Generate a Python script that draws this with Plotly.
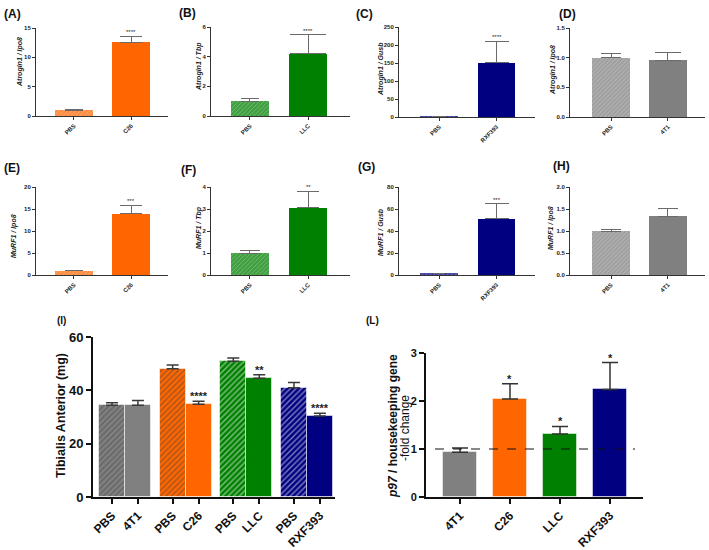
import plotly.graph_objects as go

W, H = 709, 550

# ---------------- data ----------------
cats_c26 = ["PBS", "C26"]
cats_llc = ["PBS", "LLC"]
cats_rxf = ["PBS", "RXF393"]
cats_4t1 = ["PBS", "4T1"]

atrogin_c26 = [0.97, 12.6]
atrogin_c26_sem = [0.2, 1.0]
atrogin_llc = [1.0, 4.2]
atrogin_llc_sem = [0.17, 1.27]
atrogin_rxf = [1.0, 151]
atrogin_rxf_sem = [0.5, 60]
atrogin_4t1 = [1.0, 0.955]
atrogin_4t1_sem = [0.07, 0.13]

murf_c26 = [1.0, 13.9]
murf_c26_sem = [0.12, 1.9]
murf_llc = [1.0, 3.06]
murf_llc_sem = [0.12, 0.74]
murf_rxf = [1.2, 51.0]
murf_rxf_sem = [0.4, 13.6]
murf_4t1 = [1.0, 1.33]
murf_4t1_sem = [0.03, 0.18]

ta_labels = ["PBS", "4T1", "PBS", "C26", "PBS", "LLC", "PBS", "RXF393"]
ta_mass = [34.4, 34.4, 48.1, 34.8, 50.9, 44.5, 41.0, 30.4]
ta_sem = [0.9, 1.8, 1.4, 1.1, 1.2, 1.3, 1.9, 1.0]
ta_stars = ["", "", "", "****", "", "**", "", "****"]

p97_cats = ["4T1", "C26", "LLC", "RXF393"]
p97_fold = [0.93, 2.04, 1.31, 2.24]
p97_sem = [0.09, 0.32, 0.16, 0.56]
p97_stars = ["", "*", "*", "*"]

# ---------------- styles ----------------
GRAY, ORANGE, GREEN, NAVY = "#808080", "#FF6600", "#008000", "#000080"
FONT = "Liberation Sans"

fig = go.Figure()
annotations = []
shapes = []


def px_dom(x0, x1, y0, y1):
    return [x0 / W, x1 / W], [1 - y1 / H, 1 - y0 / H]


def ax_names(i):
    return ("xaxis" if i == 1 else f"xaxis{i}", "yaxis" if i == 1 else f"yaxis{i}",
            "x" if i == 1 else f"x{i}", "y" if i == 1 else f"y{i}")


def small_panel(i, cats, vals, sems, color, box, yr, ytv, yfmt, xr, ytitle, tpos, stars, label, lpos, capw=(9, 11)):
    xa, ya, xr_, yr_ = ax_names(i)
    for k in range(2):
        pbs = k == 0
        fig.add_trace(go.Bar(
            x=[cats[k]], y=[vals[k]], width=0.66, xaxis=xr_, yaxis=yr_, showlegend=False,
            marker=dict(color=color, line=dict(width=0),
                        opacity=0.75 if pbs else 1,
                        pattern=dict(shape="/" if pbs else "", fgcolor="white", size=3, solidity=0.25, fgopacity=0.35)),
            error_y=dict(type="data", array=[sems[k]], arrayminus=[0], symmetric=False,
                         color="#6a6a6a", thickness=1, width=capw[k]),
        ))
    xd, yd = px_dom(*box)
    fig.layout[xa] = dict(domain=xd, anchor=yr_, range=xr, type="category", showline=True, linecolor="#333",
                          linewidth=1, ticks="outside", ticklen=3, tickcolor="#333", tickangle=-45,
                          tickfont=dict(family=FONT, size=6, color="#222", weight="bold"), showgrid=False,
                          zeroline=False, fixedrange=True, automargin=False)
    fig.layout[ya] = dict(domain=yd, anchor=xr_, range=yr, tickvals=ytv, ticktext=yfmt, showline=True,
                          linecolor="#333", linewidth=1, ticks="outside", ticklen=3, tickcolor="#333",
                          tickfont=dict(family=FONT, size=6, color="#222", weight="bold"), showgrid=False,
                          zeroline=False, fixedrange=True, automargin=False)
    annotations.append(dict(text=f"<b><i>{ytitle}</i></b>", x=tpos[0] / W, y=1 - tpos[1] / H, xref="paper",
                            yref="paper", textangle=-90, showarrow=False, xanchor="center", yanchor="middle",
                            font=dict(family=FONT, size=7, color="#222")))
    if stars:
        annotations.append(dict(text=stars, x=cats[1], y=vals[1] + sems[1], xref=xr_, yref=yr_, showarrow=False,
                                yanchor="bottom", yshift=-1, font=dict(family=FONT, size=6, color="#222")))
    annotations.append(dict(text=f"<b>{label}</b>", x=lpos[0] / W, y=1 - lpos[1] / H, xref="paper", yref="paper",
                            showarrow=False, xanchor="left", yanchor="middle",
                            font=dict(family=FONT, size=12, color="#111")))


small_panel(1, cats_c26, atrogin_c26, atrogin_c26_sem, ORANGE, (36, 168, 28, 116), [0, 15], [0, 5, 10, 15],
            ["0", "5", "10", "15"], [-0.66, 1.64], "Atrogin1 / Ipo8", (20, 62), "****", "(A)", (2, 14))
small_panel(2, cats_llc, atrogin_llc, atrogin_llc_sem, GREEN, (211, 350, 27, 116), [0, 6], [0, 2, 4, 6],
            ["0", "2", "4", "6"], [-0.67, 1.72], "Atrogin1 / Tbp", (199, 67), "****", "(B)", (177, 13), capw=(9, 18))
small_panel(3, cats_rxf, atrogin_rxf, atrogin_rxf_sem, NAVY, (399, 535, 27, 117), [0, 250],
            [0, 50, 100, 150, 200, 250], ["0", "50", "100", "150", "200", "250"], [-0.70, 1.67],
            "Atrogin1 / Gusb", (381, 69), "****", "(C)", (354, 14), capw=(6, 12))
small_panel(4, cats_4t1, atrogin_4t1, atrogin_4t1_sem, GRAY, (570, 705, 28, 117), [0, 1.5], [0, 0.5, 1.0, 1.5],
            ["0.0", "0.5", "1.0", "1.5"], [-0.72, 1.65], "Atrogin1 / Ipo8", (553, 70), "", "(D)", (557, 14),
            capw=(10, 13))
small_panel(5, cats_c26, murf_c26, murf_c26_sem, ORANGE, (36, 168, 187, 275), [0, 20], [0, 5, 10, 15, 20],
            ["0", "5", "10", "15", "20"], [-0.66, 1.64], "MuRF1 / Ipo8", (14, 236), "***", "(E)", (2, 168))
small_panel(6, cats_llc, murf_llc, murf_llc_sem, GREEN, (211, 350, 187, 275), [0, 4], [0, 1, 2, 3, 4],
            ["0", "1", "2", "3", "4"], [-0.67, 1.72], "MuRF1 / Tbp", (199, 228), "**", "(F)", (179, 170),
            capw=(10, 11))
small_panel(7, cats_rxf, murf_rxf, murf_rxf_sem, NAVY, (399, 535, 187, 275), [0, 80], [0, 20, 40, 60, 80],
            ["0", "20", "40", "60", "80"], [-0.70, 1.67], "MuRF1 / Gusb", (380, 232), "***", "(G)", (356, 167),
            capw=(6, 12))
small_panel(8, cats_4t1, murf_4t1, murf_4t1_sem, GRAY, (570, 705, 187, 275), [0, 2], [0, 0.5, 1.0, 1.5, 2.0],
            ["0.0", "0.5", "1.0", "1.5", "2.0"], [-0.72, 1.65], "MuRF1 / Ipo8", (551, 228), "", "(H)", (551, 166),
            capw=(10, 10))

# ---------------- panel I ----------------
ta_colors = [GRAY, GRAY, ORANGE, ORANGE, GREEN, GREEN, NAVY, NAVY]
GROUP_STEP = 2.335
ta_pos = [(k // 2) * GROUP_STEP + (k % 2) for k in range(len(ta_mass))]
fig.add_trace(go.Bar(
    x=ta_pos, y=ta_mass, width=1.0, xaxis="x9", yaxis="y9", showlegend=False,
    marker=dict(color=ta_colors, line=dict(width=1, color="rgba(255,255,255,0.55)"),
                pattern=dict(shape=["/" if k % 2 == 0 else "" for k in range(8)], fgcolor="white", size=4,
                             solidity=0.35)),
    error_y=dict(type="data", array=ta_sem, arrayminus=[0] * 8, symmetric=False, color="#3a3a3a", thickness=1.5,
                 width=6),
))
xd, yd = px_dom(93, 335, 337, 497)
fig.layout["xaxis9"] = dict(domain=xd, anchor="y9", range=[-0.73, 3 * GROUP_STEP + 1 + 0.58], tickvals=ta_pos,
                            ticktext=ta_labels, tickangle=-45, showline=True, linecolor="#111", linewidth=2,
                            ticks="outside", ticklen=5, tickwidth=2, tickcolor="#111",
                            tickfont=dict(family=FONT, size=12, color="#111", weight="bold"), showgrid=False,
                            zeroline=False, fixedrange=True, automargin=False)
fig.layout["yaxis9"] = dict(domain=yd, anchor="x9", range=[0, 60], tickvals=[0, 20, 40, 60], showline=True,
                            linecolor="#111", linewidth=2, ticks="outside", ticklen=5, tickwidth=2, tickcolor="#111",
                            tickfont=dict(family=FONT, size=13, color="#111", weight="bold"), showgrid=False,
                            zeroline=False, fixedrange=True, automargin=False)
for p, v, s, st in zip(ta_pos, ta_mass, ta_sem, ta_stars):
    if st:
        annotations.append(dict(text=st, x=p, y=v + s, xref="x9", yref="y9", showarrow=False, yanchor="bottom",
                                yshift=-3, font=dict(family=FONT, size=11, color="#222", weight="bold")))
annotations.append(dict(text="<b>Tibialis Anterior (mg)</b>", x=61 / W, y=1 - 416 / H, xref="paper", yref="paper",
                        textangle=-90, showarrow=False, xanchor="center", yanchor="middle",
                        font=dict(family=FONT, size=12.5, color="#111")))
annotations.append(dict(text="<b>(I)</b>", x=55 / W, y=1 - 320 / H, xref="paper", yref="paper", showarrow=False,
                        xanchor="left", yanchor="middle", font=dict(family=FONT, size=10, color="#111")))

# ---------------- panel L ----------------
fig.add_trace(go.Bar(
    x=p97_cats, y=p97_fold, width=0.68, xaxis="x10", yaxis="y10", showlegend=False,
    marker=dict(color=[GRAY, ORANGE, GREEN, NAVY], line=dict(width=1, color="rgba(255,255,255,0.5)")),
    error_y=dict(type="data", array=p97_sem, arrayminus=[0] * 4, symmetric=False, color="#333", thickness=1.5,
                 width=8),
))
xd, yd = px_dom(426, 643, 353, 497)
fig.layout["xaxis10"] = dict(domain=xd, anchor="y10", range=[-0.68, 3.66], type="category", tickangle=-45,
                             showline=True, linecolor="#111", linewidth=2, ticks="outside", ticklen=5, tickwidth=2,
                             tickcolor="#111", tickfont=dict(family=FONT, size=12, color="#111", weight="bold"),
                             showgrid=False, zeroline=False, fixedrange=True, automargin=False)
fig.layout["yaxis10"] = dict(domain=yd, anchor="x10", range=[0, 3], tickvals=[0, 1, 2, 3], showline=True,
                             linecolor="#111", linewidth=2, ticks="outside", ticklen=5, tickwidth=2, tickcolor="#111",
                             tickfont=dict(family=FONT, size=11, color="#111", weight="bold"), showgrid=False,
                             zeroline=False, fixedrange=True, automargin=False)
shapes.append(dict(type="line", xref="x10", yref="y10", x0=-0.5, x1=3.5, y0=1, y1=1,
                   line=dict(color="#111", width=1, dash="dash")))
for c, v, s, st in zip(p97_cats, p97_fold, p97_sem, p97_stars):
    if st:
        annotations.append(dict(text=st, x=c, y=v + s, xref="x10", yref="y10", showarrow=False, yanchor="bottom",
                                yshift=-3, font=dict(family=FONT, size=11, color="#222", weight="bold")))
annotations.append(dict(text="<b><i>p97</i> / housekeeping gene</b>", x=393 / W, y=1 - 426 / H,
                        xref="paper", yref="paper", textangle=-90, showarrow=False, xanchor="center",
                        yanchor="middle", font=dict(family=FONT, size=12, color="#111")))
annotations.append(dict(text="-fold change", x=405 / W, y=1 - 428 / H,
                        xref="paper", yref="paper", textangle=-90, showarrow=False, xanchor="center",
                        yanchor="middle", font=dict(family=FONT, size=12, color="#111")))
annotations.append(dict(text="<b>(L)</b>", x=364 / W, y=1 - 320 / H, xref="paper", yref="paper", showarrow=False,
                        xanchor="left", yanchor="middle", font=dict(family=FONT, size=10, color="#111")))

fig.update_layout(width=W, height=H, margin=dict(l=0, r=0, t=0, b=0, autoexpand=False), paper_bgcolor="white",
                  plot_bgcolor="white", annotations=annotations, shapes=shapes, bargap=0,
                  font=dict(family=FONT))

fig.write_html("out.html", config={"displayModeBar": False},
               post_script="document.body.style.margin='0px';document.body.style.overflow='hidden';")
